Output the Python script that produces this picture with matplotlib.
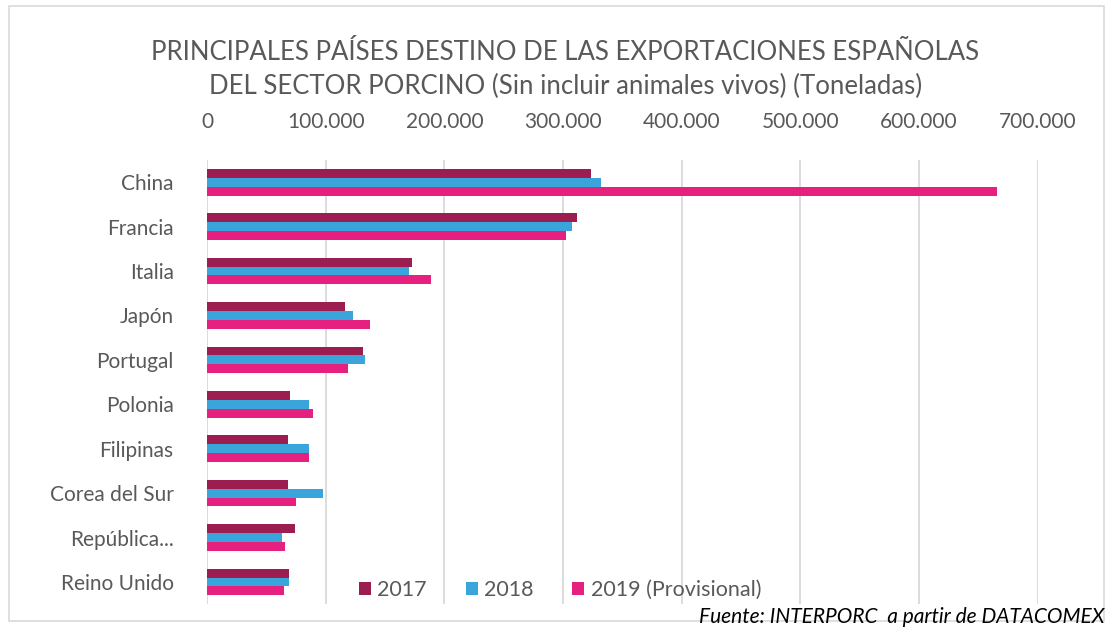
import numpy as np
import matplotlib.pyplot as plt
from matplotlib.patches import Rectangle

# Exportaciones del sector porcino por pais destino (toneladas)
paises = ['China', 'Francia', 'Italia', 'Japón', 'Portugal', 'Polonia',
          'Filipinas', 'Corea del Sur', 'República...', 'Reino Unido']
v2017 = [323500, 312000, 172500, 116000, 131000, 70000, 68000, 68000, 74000, 69000]
v2018 = [332000, 307500, 170000, 123000, 133000, 86000, 86000, 97500, 63000, 69000]
v2019 = [665500, 302500, 188500, 137000, 118500, 89000, 85500, 75000, 65500, 64500]
ticks = [0, 100000, 200000, 300000, 400000, 500000, 600000, 700000]
tick_labels = ['0', '100.000', '200.000', '300.000', '400.000', '500.000', '600.000', '700.000']

c2017 = '#9C1D4F'
c2018 = '#3AA5DA'
c2019 = '#E5207F'
gris = '#595959'

plt.rcParams['font.family'] = ['Lato', 'DejaVu Sans']

fig = plt.figure(figsize=(11.13, 6.3), dpi=100)
ax = fig.add_axes([0.186, 0.041, 0.7465, 0.705])

y = np.arange(len(paises))
h = 0.2
ax.barh(y - h, v2017, height=h, color=c2017, label='2017', zorder=3)
ax.barh(y, v2018, height=h, color=c2018, label='2018', zorder=3)
ax.barh(y + h, v2019, height=h, color=c2019, label='2019 (Provisional)', zorder=3)

ax.set_ylim(len(paises) - 0.5, -0.5)
ax.set_xlim(0, 700000)
ax.set_yticks(y)
ax.set_yticklabels(paises, fontsize=15, color=gris)
ax.set_xticks(ticks)
ax.set_xticklabels(tick_labels, fontsize=15, color=gris)
ax.xaxis.tick_top()
ax.tick_params(length=0, pad=20, axis='x')
ax.tick_params(length=0, pad=24, axis='y')
ax.grid(axis='x', color='#D9D9D9', linewidth=1.3, zorder=0)
for s in ax.spines.values():
    s.set_visible(False)

leg = ax.legend(loc='lower center', bbox_to_anchor=(0.425, -0.035), ncol=3, frameon=False,
                fontsize=15.5, handlelength=0.55, handleheight=0.55, handletextpad=0.3,
                columnspacing=1.8)
for t in leg.get_texts():
    t.set_color(gris)

fig.text(0.508, 0.917, 'PRINCIPALES PAÍSES DESTINO DE LAS EXPORTACIONES ESPAÑOLAS',
         ha='center', va='center', fontsize=18.5, color=gris)
fig.text(0.508, 0.862, 'DEL SECTOR PORCINO (Sin incluir animales vivos) (Toneladas)',
         ha='center', va='center', fontsize=18.5, color=gris)
fig.text(0.992, 0.02, 'Fuente: INTERPORC  a partir de DATACOMEX', ha='right', va='center',
         fontsize=15, style='italic', color='black')

# marco del grafico
fig.patches.append(Rectangle((0.008, 0.015), 0.984, 0.975, transform=fig.transFigure,
                             fill=False, edgecolor='#D9D9D9', linewidth=1.2))

fig.savefig('out.png', dpi=100)
